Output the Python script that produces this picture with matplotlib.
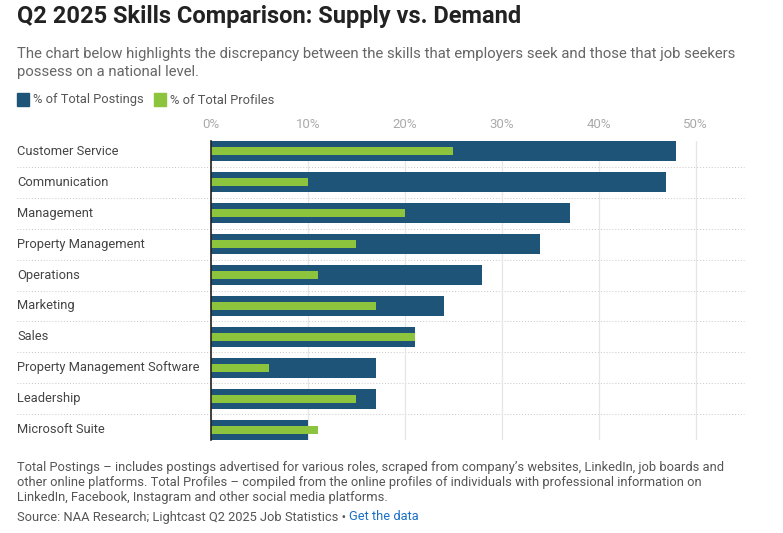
import matplotlib.pyplot as plt
import numpy as np

skills = [
    "Customer Service",
    "Communication",
    "Management",
    "Property Management",
    "Operations",
    "Marketing",
    "Sales",
    "Property Management Software",
    "Leadership",
    "Microsoft Suite",
]
postings = [48, 47, 37, 34, 28, 24, 21, 17, 17, 10]
profiles = [25, 10, 20, 15, 11, 17, 21, 6, 15, 11]
tick_values = [0, 10, 20, 30, 40, 50]

DARK = "#1d5478"
GREEN = "#8cc43e"
W, H = 783, 533

plt.rcParams["font.family"] = ["Roboto", "DejaVu Sans"]

fig = plt.figure(figsize=(W / 100, H / 100), dpi=100)
fig.patch.set_facecolor("white")


def fx(px):
    return px / W


def fy(px):
    return 1 - px / H


# 1. Header texts
fig.text(fx(17), fy(16), "Q2 2025 Skills Comparison: Supply vs. Demand",
         fontsize=17, fontweight="bold", color="#222222", va="center")
fig.text(fx(17), fy(54), "The chart below highlights the discrepancy between the skills that employers seek and those that job seekers",
         fontsize=10.75, color="#666666", va="center")
fig.text(fx(17), fy(72), "possess on a national level.",
         fontsize=10.75, color="#666666", va="center")

# 2. Legend
for x0, col, lab in [(17, DARK, "% of Total Postings"), (154, GREEN, "% of Total Profiles")]:
    fig.patches.append(plt.Rectangle((fx(x0), fy(106)), fx(12), 13 / H,
                                     transform=fig.transFigure, color=col))
    fig.text(fx(x0 + 16), fy(100), lab, fontsize=9.3, color="#555555", va="center")

# 3. Bars
ax = fig.add_axes([fx(211), fy(440), fx(744 - 211), 299 / H])
y = np.arange(len(skills))
ax.barh(y, postings, height=20 / 31, color=DARK, zorder=2)
ax.barh(y, profiles, height=8 / 31, color=GREEN, zorder=3)

ax.set_xlim(0, 55)
ax.set_ylim(len(skills) - 1 + 0.323, -0.323)
ax.xaxis.tick_top()
ax.set_xticks(tick_values)
ax.set_xticklabels([f"{v}%" for v in tick_values])
ax.tick_params(axis="x", length=0, pad=7, labelsize=9.5, labelcolor="#aaaaaa")
ax.set_yticks([])
for s in ["top", "right", "bottom"]:
    ax.spines[s].set_visible(False)
ax.spines["left"].set_color("#222222")
ax.spines["left"].set_linewidth(1.2)
ax.spines["left"].set_zorder(4)
ax.grid(axis="x", color="#e6e6e6", linewidth=0.9, zorder=0)

# row separators reaching to the label column
left_ext = -(211 - 17) / (744 - 211)
for i in range(len(skills) - 1):
    ax.axhline(i + 0.5, xmin=left_ext, xmax=1, color="#c8c8c8",
               linestyle=(0, (1, 2)), linewidth=0.7, clip_on=False, zorder=1)

for i, name in enumerate(skills):
    ax.text(-(211 - 17) / 9.69, i, name, fontsize=9.3, color="#444444",
            va="center", ha="left")

# 4. Footer
notes = [
    "Total Postings \u2013 includes postings advertised for various roles, scraped from company\u2019s websites, LinkedIn, job boards and",
    "other online platforms. Total Profiles \u2013 compiled from the online profiles of individuals with professional information on",
    "LinkedIn, Facebook, Instagram and other social media platforms.",
]
for k, line in enumerate(notes):
    fig.text(fx(17), fy(468 + 14.5 * k), line, fontsize=9.3, color="#555555", va="center")

src = fig.text(fx(17), fy(517), "Source: NAA Research; Lightcast Q2 2025 Job Statistics \u2022 ",
               fontsize=9.3, color="#555555", va="center")
fig.canvas.draw()
bb = src.get_window_extent()
fig.text(bb.x1 / W, fy(517), "Get the data", fontsize=9.3, color="#1a6fc4", va="center")

fig.savefig("out.png", dpi=100)
